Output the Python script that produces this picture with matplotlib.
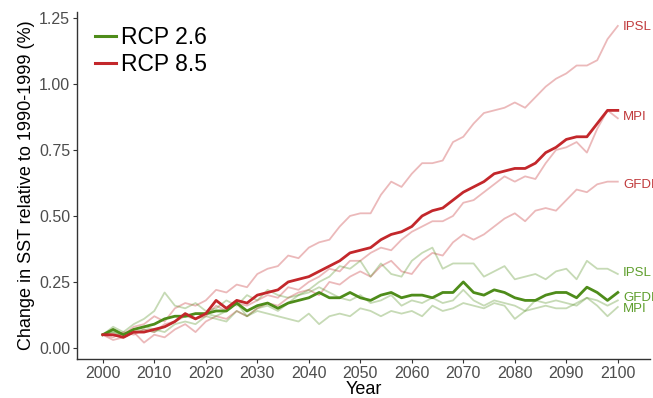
import numpy as np
import matplotlib
matplotlib.use("Agg")
import matplotlib.pyplot as plt
from matplotlib.lines import Line2D

plt.rcParams['font.family'] = ['Liberation Sans', 'DejaVu Sans']

years = list(range(2000, 2101, 2))

# RCP 8.5 model runs
rcp85_ipsl = [0.05, 0.07, 0.05, 0.08, 0.09, 0.12, 0.10, 0.15, 0.17, 0.16, 0.18, 0.22, 0.21, 0.24, 0.23,
              0.28, 0.30, 0.31, 0.35, 0.34, 0.38, 0.40, 0.41, 0.46, 0.50, 0.51, 0.51, 0.58, 0.63, 0.61,
              0.66, 0.70, 0.70, 0.71, 0.78, 0.80, 0.85, 0.89, 0.90, 0.91, 0.93, 0.91, 0.95, 0.99, 1.02,
              1.04, 1.07, 1.07, 1.09, 1.17, 1.22]
rcp85_mpi = [0.05, 0.04, 0.06, 0.05, 0.07, 0.06, 0.09, 0.10, 0.13, 0.11, 0.12, 0.16, 0.14, 0.17, 0.16,
             0.18, 0.20, 0.19, 0.23, 0.22, 0.25, 0.27, 0.30, 0.29, 0.33, 0.33, 0.36, 0.38, 0.37, 0.41,
             0.44, 0.46, 0.48, 0.48, 0.50, 0.55, 0.56, 0.59, 0.62, 0.65, 0.63, 0.65, 0.64, 0.70, 0.75,
             0.76, 0.78, 0.74, 0.83, 0.90, 0.87]
rcp85_gfdl = [0.05, 0.03, 0.04, 0.06, 0.02, 0.05, 0.04, 0.07, 0.09, 0.06, 0.10, 0.12, 0.11, 0.14, 0.12,
              0.15, 0.17, 0.16, 0.19, 0.21, 0.22, 0.20, 0.25, 0.24, 0.27, 0.29, 0.27, 0.31, 0.33, 0.29,
              0.28, 0.33, 0.36, 0.35, 0.40, 0.43, 0.41, 0.43, 0.46, 0.49, 0.51, 0.48, 0.52, 0.53, 0.52,
              0.56, 0.60, 0.59, 0.62, 0.63, 0.63]
rcp85_mean = [0.05, 0.05, 0.04, 0.06, 0.06, 0.07, 0.08, 0.10, 0.13, 0.11, 0.13, 0.18, 0.15, 0.18, 0.17,
              0.20, 0.21, 0.22, 0.25, 0.26, 0.27, 0.29, 0.31, 0.33, 0.36, 0.37, 0.38, 0.41, 0.43, 0.44,
              0.46, 0.50, 0.52, 0.53, 0.56, 0.59, 0.61, 0.63, 0.66, 0.67, 0.68, 0.68, 0.70, 0.74, 0.76,
              0.79, 0.80, 0.80, 0.85, 0.90, 0.90]

# RCP 2.6 model runs
rcp26_ipsl = [0.05, 0.08, 0.06, 0.09, 0.11, 0.14, 0.21, 0.16, 0.15, 0.17, 0.14, 0.15, 0.18, 0.16, 0.20,
              0.18, 0.22, 0.20, 0.19, 0.20, 0.22, 0.25, 0.27, 0.31, 0.30, 0.33, 0.27, 0.32, 0.28, 0.27,
              0.33, 0.36, 0.38, 0.30, 0.32, 0.32, 0.32, 0.27, 0.29, 0.31, 0.26, 0.27, 0.28, 0.26, 0.29,
              0.30, 0.26, 0.33, 0.30, 0.30, 0.28]
rcp26_gfdl = [0.05, 0.06, 0.04, 0.06, 0.07, 0.06, 0.08, 0.10, 0.12, 0.11, 0.13, 0.12, 0.14, 0.17, 0.12,
              0.15, 0.16, 0.14, 0.17, 0.20, 0.21, 0.23, 0.21, 0.19, 0.18, 0.20, 0.17, 0.18, 0.20, 0.16,
              0.18, 0.17, 0.19, 0.17, 0.18, 0.22, 0.18, 0.16, 0.18, 0.17, 0.16, 0.14, 0.18, 0.17, 0.18,
              0.17, 0.16, 0.19, 0.18, 0.16, 0.18]
rcp26_mpi = [0.05, 0.06, 0.05, 0.07, 0.08, 0.07, 0.06, 0.09, 0.10, 0.09, 0.12, 0.11, 0.10, 0.14, 0.12,
             0.14, 0.13, 0.12, 0.11, 0.10, 0.13, 0.09, 0.12, 0.13, 0.12, 0.15, 0.14, 0.12, 0.14, 0.13,
             0.14, 0.12, 0.16, 0.14, 0.15, 0.17, 0.16, 0.15, 0.17, 0.16, 0.11, 0.14, 0.15, 0.16, 0.15,
             0.15, 0.17, 0.19, 0.16, 0.12, 0.155]
rcp26_mean = [0.05, 0.07, 0.05, 0.07, 0.08, 0.09, 0.11, 0.12, 0.12, 0.13, 0.13, 0.14, 0.14, 0.17, 0.14,
              0.16, 0.17, 0.15, 0.17, 0.18, 0.19, 0.21, 0.19, 0.19, 0.21, 0.19, 0.18, 0.20, 0.21, 0.19,
              0.20, 0.20, 0.19, 0.21, 0.21, 0.25, 0.21, 0.20, 0.22, 0.21, 0.19, 0.18, 0.18, 0.20, 0.21,
              0.21, 0.19, 0.23, 0.21, 0.18, 0.21]

model_names = ["IPSL", "MPI", "GFDL"]
label_y_85 = [1.216, 0.875, 0.617]
label_y_26 = [0.284, 0.148, 0.19]

red = "#C3272B"
green = "#4E8C1A"
red_lbl = "#C0393B"
green_lbl = "#5E9E2C"

fig = plt.figure(figsize=(6.53, 3.98), dpi=100)
ax = fig.add_axes([0.118, 0.098, 0.877, 0.872])

for s in (rcp85_ipsl, rcp85_mpi, rcp85_gfdl):
    ax.plot(years, s, color=red, alpha=0.32, lw=1.3, zorder=2)
for s in (rcp26_ipsl, rcp26_gfdl, rcp26_mpi):
    ax.plot(years, s, color=green, alpha=0.32, lw=1.3, zorder=2)
ax.plot(years, rcp26_mean, color=green, lw=2.0, zorder=4)
ax.plot(years, rcp85_mean, color=red, lw=2.0, zorder=4)

# model names at the right-hand end of each run
for name, yv in zip(model_names, label_y_85):
    ax.text(2101, yv, name, color=red_lbl, fontsize=9.5, va="center", ha="left", clip_on=False)
for name, yv in zip(model_names, label_y_26):
    ax.text(2101, yv, name, color=green_lbl, fontsize=9.5, va="center", ha="left", clip_on=False)

ax.set_xlim(1995, 2106.2)
ax.set_ylim(-0.042, 1.273)
ax.set_xticks(range(2000, 2101, 10))
ax.set_yticks([0, 0.25, 0.5, 0.75, 1.0, 1.25])
ax.set_yticklabels(["0.00", "0.25", "0.50", "0.75", "1.00", "1.25"])
ax.tick_params(axis="both", labelsize=11.5, labelcolor="#4D4D4D", color="#333333",
               length=3, width=0.8, pad=2)
for sp in ("top", "right"):
    ax.spines[sp].set_visible(False)
for sp in ("left", "bottom"):
    ax.spines[sp].set_color("#333333")
    ax.spines[sp].set_linewidth(1.0)

ax.set_xlabel("Year", fontsize=13, labelpad=0)
ax.set_ylabel("Change in SST relative to 1990-1999 (%)", fontsize=13, labelpad=3)

handles = [Line2D([0], [0], color=green, lw=2.2), Line2D([0], [0], color=red, lw=2.2)]
ax.legend(handles, ["RCP 2.6", "RCP 8.5"], loc="upper left", bbox_to_anchor=(0.008, 0.998),
          frameon=False, fontsize=16.5, handlelength=0.9, handletextpad=0.2,
          labelspacing=0.15, borderaxespad=0.2)

fig.savefig("out.png", dpi=100)
